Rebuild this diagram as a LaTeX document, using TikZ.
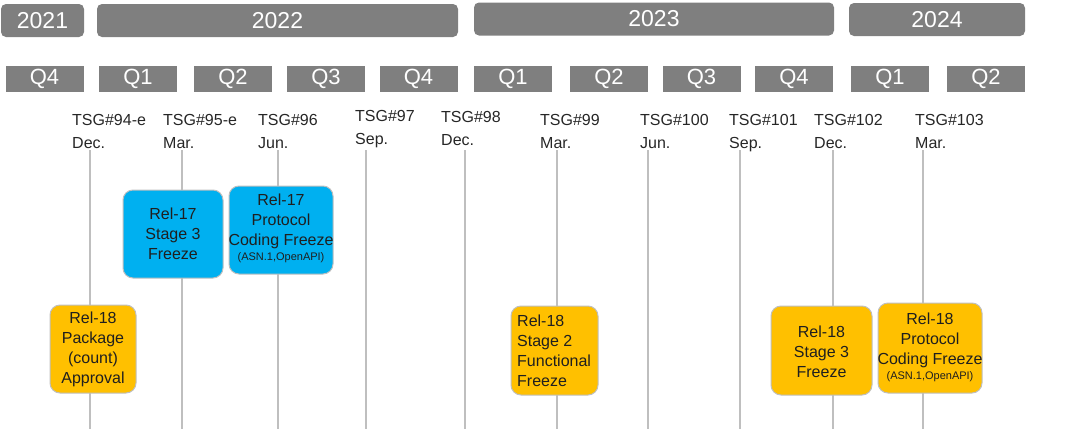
\documentclass[tikz,border=0pt]{standalone}
\usepackage{fontspec}
\setmainfont{Liberation Sans}
\usetikzlibrary{positioning}
\definecolor{bargray}{HTML}{7F7F7F}
\definecolor{linegray}{HTML}{BFBFBF}
\definecolor{relblue}{HTML}{00B0F0}
\definecolor{relyellow}{HTML}{FFC000}
\definecolor{inkgray}{HTML}{262626}

\begin{document}
\begin{tikzpicture}[x=1pt, y=-1pt,
  yearbar/.style={rectangle, rounded corners=5pt, fill=bargray, text=white, font=\fontsize{23}{26}\selectfont, minimum height=33pt, inner sep=0pt},
  qbar/.style={rectangle, fill=bargray, text=white, font=\fontsize{22}{24}\selectfont, minimum width=78pt, minimum height=26pt, inner sep=0pt},
  relbox/.style={rectangle, rounded corners=10pt, draw=linegray, line width=1pt, inner sep=0pt},
  boxtext/.style={font=\fontsize{16}{20}\selectfont, text=black!88, align=center, inner sep=0pt},
  tsglabel/.style={anchor=north west, align=left, font=\fontsize{16}{23.5}\selectfont, text=inkgray, inner sep=0pt}]
\useasboundingbox (0,0) rectangle (1080,429);

% Year bars
\node[yearbar, minimum width=83pt] (y2021) at (42.5,20.5) {2021};
\node[yearbar, minimum width=361pt] (y2022) at (277.5,20.5) {2022};
\node[yearbar, minimum width=360pt] (y2023) at (654,19) {2023};
\node[yearbar, minimum width=176pt] (y2024) at (937,19.5) {2024};

% Quarter bars
\foreach \qx/\qtext [count=\i] in {44.5/Q4, 138/Q1, 233/Q2, 326/Q3, 418.5/Q4, 513/Q1, 609/Q2, 701.5/Q3, 794/Q4, 890/Q1, 986/Q2}
  \node[qbar] (q\i) at (\qx,79) {\qtext};

% Meeting lines and labels
\foreach \lx/\tx/\ty/\meet/\mon [count=\i] in {90/72/114/94-e/Dec., 182/163/114/95-e/Mar., 278/258/114/96/Jun., 366/355/110/97/Sep., 465/441/111/98/Dec., 557/540/114/99/Mar., 648/640/114/100/Jun., 740/729/114/101/Sep., 833/814/114/102/Dec., 923/915/114/103/Mar.}
{
  \draw[linegray, line width=1.5pt] (\lx,150) -- (\lx,429);
  \node[tsglabel] (tsg\i) at (\tx,\ty) {TSG\#\meet\\\mon};
}

% Release boxes
\node[relbox, fill=relblue, minimum width=100pt, minimum height=88pt] (r17stage) at (173,234) {};
\node[relbox, fill=relblue, minimum width=104pt, minimum height=88pt] (r17proto) at (281,230) {};
\node[relbox, fill=relyellow, minimum width=86pt, minimum height=88pt] (r18pkg) at (93,349) {};
\node[relbox, fill=relyellow, minimum width=87pt, minimum height=89pt] (r18stage2) at (554.5,350.5) {};
\node[relbox, fill=relyellow, minimum width=101pt, minimum height=89pt] (r18stage3) at (821.5,350.5) {};
\node[relbox, fill=relyellow, minimum width=104pt, minimum height=90pt] (r18proto) at (930,348) {};

% Box text
\node[boxtext] at (r17stage) {Rel-17\\Stage 3\\Freeze};
\node[boxtext] at ([yshift=2pt]r17proto) {Rel-17\\Protocol\\Coding Freeze\\[-5pt]{\fontsize{11}{13}\selectfont (ASN.1,OpenAPI)}};
\node[boxtext] at (r18pkg) {Rel-18\\Package\\(count)\\Approval};
\node[boxtext, align=left, anchor=west] at (517,351) {Rel-18\\Stage 2\\Functional\\Freeze};
\node[boxtext] at ([yshift=-1pt]r18stage3) {Rel-18\\Stage 3\\Freeze};
\node[boxtext] at ([yshift=1pt]r18proto) {Rel-18\\Protocol\\Coding Freeze\\[-5pt]{\fontsize{11}{13}\selectfont (ASN.1,OpenAPI)}};
\end{tikzpicture}
\end{document}
